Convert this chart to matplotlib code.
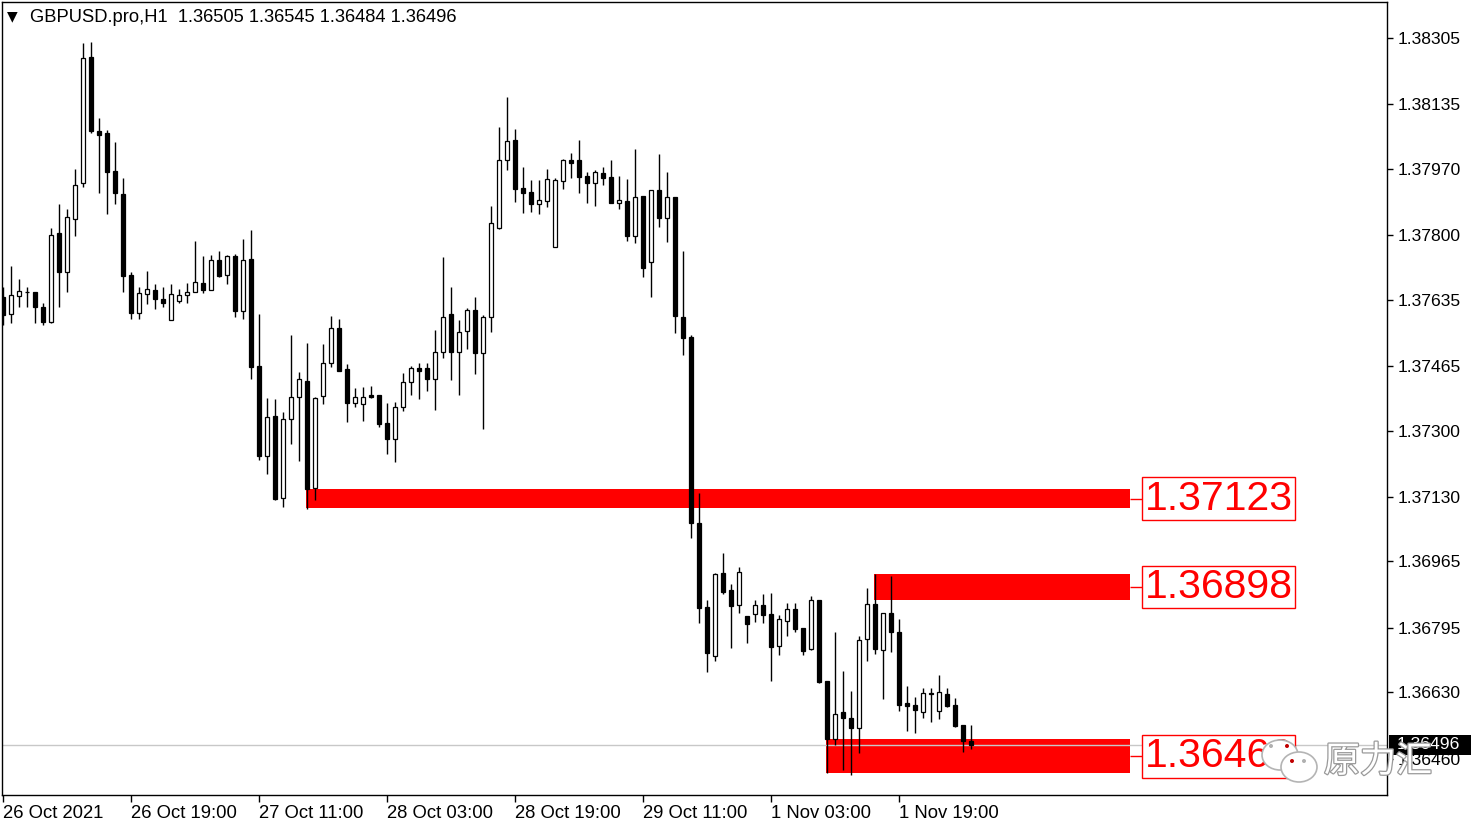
import matplotlib
matplotlib.use('Agg')
import matplotlib.pyplot as plt
from matplotlib.patches import Rectangle, Ellipse
import matplotlib.patheffects as pe
import matplotlib.transforms as mtransforms
import numpy as np

plt.rcParams['font.family'] = ['Liberation Sans', 'DejaVu Sans']

# GBPUSD H1 candles
opens = [1.37642, 1.37598, 1.37644, 1.37654, 1.37654, 1.37616, 1.37578, 1.37805, 1.37706, 1.37841,
         1.37933, 1.38256, 1.38067, 1.38061, 1.37964, 1.37905, 1.37698, 1.37601, 1.37649, 1.37660,
         1.37637, 1.37583, 1.37631, 1.37647, 1.37654, 1.37677, 1.37660, 1.37736, 1.37698, 1.37747,
         1.37606, 1.37739, 1.37465, 1.37235, 1.37337, 1.37127, 1.37329, 1.37386, 1.37427, 1.37153,
         1.37388, 1.37473, 1.37562, 1.37457, 1.37370, 1.37368, 1.37391, 1.37391, 1.37319, 1.37278,
         1.37360, 1.37424, 1.37460, 1.37460, 1.37432, 1.37501, 1.37598, 1.37501, 1.37555, 1.37608,
         1.37498, 1.37591, 1.37818, 1.37992, 1.38044, 1.37921, 1.37911, 1.37880, 1.37887, 1.37770,
         1.37939, 1.37992, 1.37992, 1.37951, 1.37933, 1.37959, 1.37949, 1.37882, 1.37887, 1.37798,
         1.37900, 1.37731, 1.37916, 1.37844, 1.37898, 1.37591, 1.37539, 1.37063, 1.36848, 1.36723,
         1.36935, 1.36892, 1.36853, 1.36825, 1.36830, 1.36853, 1.36830, 1.36748, 1.36812, 1.36843,
         1.36794, 1.36741, 1.36866, 1.36659, 1.36510, 1.36579, 1.36564, 1.36538, 1.36766, 1.36856,
         1.36738, 1.36833, 1.36784, 1.36602, 1.36597, 1.36579, 1.36628, 1.36582, 1.36625, 1.36597,
         1.36546, 1.36505]
highs = [1.37667, 1.37721, 1.37688, 1.37667, 1.37654, 1.37626, 1.37818, 1.37880, 1.37867, 1.37969,
         1.38292, 1.38294, 1.38100, 1.38069, 1.38038, 1.37946, 1.37706, 1.37667, 1.37708, 1.37675,
         1.37667, 1.37675, 1.37662, 1.37677, 1.37785, 1.37747, 1.37749, 1.37759, 1.37749, 1.37752,
         1.37790, 1.37813, 1.37598, 1.37383, 1.37381, 1.37347, 1.37544, 1.37450, 1.37524, 1.37386,
         1.37521, 1.37593, 1.37585, 1.37470, 1.37409, 1.37411, 1.37414, 1.37391, 1.37370, 1.37373,
         1.37447, 1.37465, 1.37473, 1.37473, 1.37557, 1.37744, 1.37667, 1.37583, 1.37614, 1.37642,
         1.37596, 1.37875, 1.38077, 1.38154, 1.38072, 1.37975, 1.37941, 1.37941, 1.37969, 1.37946,
         1.37995, 1.38010, 1.38044, 1.37962, 1.37967, 1.37975, 1.37992, 1.37951, 1.37944, 1.38021,
         1.37900, 1.37916, 1.38008, 1.37962, 1.37898, 1.37759, 1.37544, 1.37140, 1.36866, 1.36935,
         1.36986, 1.36907, 1.36951, 1.36825, 1.36866, 1.36881, 1.36884, 1.36828, 1.36858, 1.36858,
         1.36794, 1.36876, 1.36866, 1.36659, 1.36784, 1.36684, 1.36633, 1.36774, 1.36897, 1.36933,
         1.36833, 1.36927, 1.36817, 1.36646, 1.36618, 1.36641, 1.36641, 1.36674, 1.36641, 1.36615,
         1.36546, 1.36545]
lows = [1.37570, 1.37575, 1.37616, 1.37616, 1.37575, 1.37570, 1.37575, 1.37616, 1.37654, 1.37798,
        1.37923, 1.38061, 1.37908, 1.37854, 1.37880, 1.37654, 1.37585, 1.37585, 1.37624, 1.37611,
        1.37616, 1.37583, 1.37626, 1.37626, 1.37654, 1.37652, 1.37660, 1.37693, 1.37675, 1.37591,
        1.37585, 1.37432, 1.37224, 1.37189, 1.37122, 1.37104, 1.37265, 1.37222, 1.37100, 1.37122,
        1.37368, 1.37463, 1.37452, 1.37322, 1.37360, 1.37324, 1.37383, 1.37309, 1.37240, 1.37219,
        1.37350, 1.37391, 1.37381, 1.37401, 1.37352, 1.37485, 1.37429, 1.37391, 1.37509, 1.37445,
        1.37304, 1.37552, 1.37816, 1.37967, 1.37885, 1.37857, 1.37859, 1.37854, 1.37872, 1.37770,
        1.37918, 1.37946, 1.37908, 1.37882, 1.37875, 1.37928, 1.37882, 1.37867, 1.37785, 1.37780,
        1.37693, 1.37642, 1.37821, 1.37783, 1.37550, 1.37493, 1.37025, 1.36807, 1.36682, 1.36710,
        1.36881, 1.36743, 1.36833, 1.36756, 1.36810, 1.36807, 1.36659, 1.36725, 1.36774, 1.36784,
        1.36725, 1.36738, 1.36653, 1.36423, 1.36495, 1.36431, 1.36418, 1.36474, 1.36710, 1.36728,
        1.36613, 1.36733, 1.36582, 1.36531, 1.36525, 1.36564, 1.36554, 1.36561, 1.36592, 1.36541,
        1.36477, 1.36484]
closes = [1.37596, 1.37647, 1.37657, 1.37654, 1.37616, 1.37578, 1.37800, 1.37706, 1.37846, 1.37928,
          1.38253, 1.38067, 1.38056, 1.37962, 1.37908, 1.37695, 1.37601, 1.37652, 1.37662, 1.37637,
          1.37626, 1.37649, 1.37647, 1.37654, 1.37680, 1.37660, 1.37736, 1.37695, 1.37747, 1.37606,
          1.37736, 1.37463, 1.37235, 1.37334, 1.37125, 1.37329, 1.37386, 1.37432, 1.37150, 1.37383,
          1.37473, 1.37562, 1.37452, 1.37370, 1.37386, 1.37386, 1.37386, 1.37317, 1.37278, 1.37360,
          1.37424, 1.37460, 1.37452, 1.37432, 1.37501, 1.37591, 1.37501, 1.37552, 1.37608, 1.37498,
          1.37591, 1.37831, 1.37992, 1.38041, 1.37918, 1.37908, 1.37880, 1.37890, 1.37944, 1.37941,
          1.37992, 1.37985, 1.37949, 1.37933, 1.37962, 1.37946, 1.37882, 1.37890, 1.37798, 1.37898,
          1.37716, 1.37916, 1.37844, 1.37898, 1.37593, 1.37537, 1.37063, 1.36846, 1.36730, 1.36933,
          1.36887, 1.36851, 1.36938, 1.36805, 1.36853, 1.36828, 1.36746, 1.36817, 1.36843, 1.36792,
          1.36735, 1.36866, 1.36656, 1.36510, 1.36574, 1.36564, 1.36538, 1.36764, 1.36856, 1.36741,
          1.36833, 1.36784, 1.36597, 1.36595, 1.36584, 1.36628, 1.36625, 1.36630, 1.36595, 1.36543,
          1.36505, 1.36496]

date_ticks = [0, 16, 32, 48, 64, 80, 96, 112]
date_labels = ['26 Oct 2021', '26 Oct 19:00', '27 Oct 11:00', '28 Oct 03:00',
               '28 Oct 19:00', '29 Oct 11:00', '1 Nov 03:00', '1 Nov 19:00']
price_ticks = [1.38305, 1.38135, 1.37970, 1.37800, 1.37635, 1.37465,
               1.37300, 1.37130, 1.36965, 1.36795, 1.36630, 1.36460]

# support / resistance zones (start bar, top, bottom, label)
zone_start = [38, 109, 103]
zone_top = [1.37150, 1.36933, 1.36510]
zone_bottom = [1.37102, 1.36866, 1.36423]
zone_labels = ['1.37123', '1.36898', '1.36466']

bid = 1.36496
header = 'GBPUSD.pro,H1  1.36505 1.36545 1.36484 1.36496'

W, H = 1479, 827
fig = plt.figure(figsize=(W / 100, H / 100), dpi=100)
ax = fig.add_axes([2 / W, 32 / H, 1385 / W, 793 / H])
ax.set_xlim(-0.125, 173)
ax.set_ylim(1.36367, 1.38397)

o = np.array(opens)
hi = np.array(highs)
lo = np.array(lows)
c = np.array(closes)
idx = np.arange(len(o))
up = c >= o

# zones first, candles go over them
zone_end = 140.9
for s, t, b, lab in zip(zone_start, zone_top, zone_bottom, zone_labels):
    ax.add_patch(Rectangle((s - 0.1, b), zone_end - (s - 0.1), t - b,
                           facecolor='#ff0000', edgecolor='none', zorder=1))
    mid = (t + b) / 2
    ax.plot([zone_end, 142.4], [mid, mid], color='#ff0000', lw=1, zorder=1,
            solid_capstyle='butt')
    ax.text(142.7, mid, lab, color='#ff0000', fontsize=29.5, va='center', ha='left',
            zorder=6, bbox=dict(boxstyle='square,pad=0.06', fc='white', ec='#ff0000', lw=1))

ax.axhline(bid, color='#c8c8c8', lw=1, zorder=2)

ax.vlines(idx, lo, hi, color='black', lw=1, zorder=3)
ax.bar(idx[up], (c - o)[up], bottom=o[up], width=0.6, color='white',
       edgecolor='black', linewidth=0.9, zorder=4)
ax.bar(idx[~up], (o - c)[~up], bottom=c[~up], width=0.6, color='black',
       edgecolor='black', linewidth=0.9, zorder=4)

# axes look like the MT4 terminal
for sp in ax.spines.values():
    sp.set_color('black')
    sp.set_linewidth(1)
ax.yaxis.tick_right()
ax.set_yticks(price_ticks)
ax.set_yticklabels([f'{v:.5f}' for v in price_ticks])
ax.tick_params(axis='y', length=4, width=1, pad=4, labelsize=12.6, colors='black')
ax.set_xticks(date_ticks)
ax.set_xticklabels(date_labels)
for lbl in ax.get_xticklabels():
    lbl.set_ha('left')
ax.tick_params(axis='x', length=5, width=1, pad=2, labelsize=13.3, colors='black')

# current bid tag on the price scale
tr = mtransforms.blended_transform_factory(ax.transAxes, ax.transData)
ax.add_patch(Rectangle((1.0014, 1.36469), 0.0589, 0.00051, transform=tr,
                       facecolor='black', edgecolor='none', clip_on=False, zorder=7))
ax.text(1.0068, bid, f'{bid:.5f}', transform=tr, color='white', fontsize=12.6,
        va='center', ha='left', clip_on=False, zorder=8)

# header
fig.text(7 / W, 1 - 16 / H, '\u25bc', fontsize=10, va='center', ha='left',
         family='DejaVu Sans')
fig.text(30 / W, 1 - 17 / H, header, fontsize=13.2, va='center', ha='left')

# watermark
for (cx, cy, w, h) in [(1280, 755, 36, 30), (1299, 767, 36, 30)]:
    fig.add_artist(Ellipse((cx / W, 1 - cy / H), w / W, h / H, transform=fig.transFigure,
                           facecolor='white', edgecolor='#b4b4b4', lw=1.2, zorder=9))
for (dx, dy, col) in [(1271, 746, '#b0b0b0'), (1287, 746, '#c00000'),
                      (1292, 761, '#c00000'), (1304, 761, '#b0b0b0')]:
    fig.add_artist(Ellipse((dx / W, 1 - dy / H), 4 / W, 4 / H, transform=fig.transFigure,
                           facecolor=col, edgecolor='none', zorder=10))
fig.text(1378 / W, 1 - 762 / H, '原力汇', fontsize=26, color='white', va='center',
         ha='center', family=['Noto Sans CJK SC', 'DejaVu Sans'], zorder=10,
         path_effects=[pe.withStroke(linewidth=1.8, foreground='#9a9a9a')])

fig.savefig('out.png', dpi=100)
